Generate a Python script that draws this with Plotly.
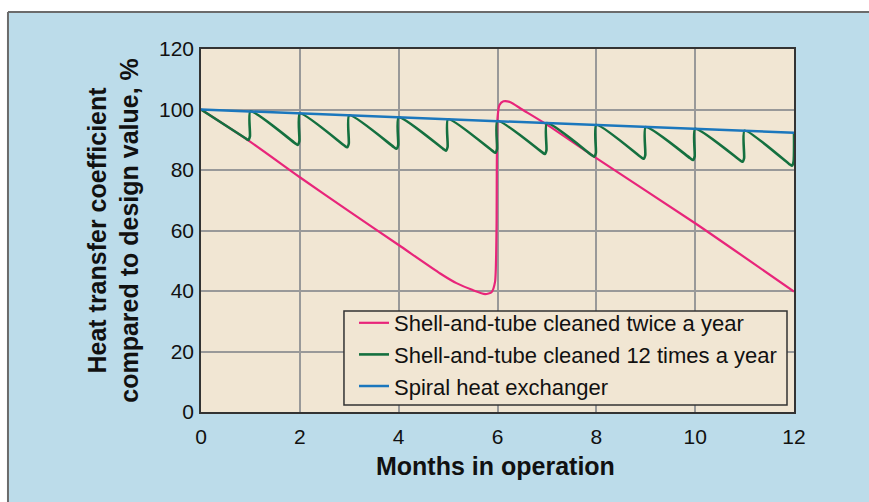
import plotly.graph_objects as go

# ---- data ----
months_ticks = [0, 2, 4, 6, 8, 10, 12]
y_ticks = [0, 20, 40, 60, 80, 100, 120]

# Spiral heat exchanger
spiral_x = [0, 2, 4, 6, 8, 10, 12]
spiral_y = [100, 98.7, 97.4, 96.1, 94.9, 93.6, 92.3]

# Shell-and-tube cleaned twice a year
twice_x = [0, 1, 2, 3, 4, 4.84, 5.17, 5.5, 5.75, 5.88, 5.95, 5.98, 6.0, 6.04, 6.12, 6.25, 6.5, 7, 8, 10, 12]
twice_y = [100, 89.3, 77.6, 66.3, 55.2, 45.8, 42.6, 40.3, 39.0, 39.6, 43, 60, 97, 101.5, 102.7, 102.5, 100, 95, 83.9, 62.4, 39.8]

# Shell-and-tube cleaned 12 times a year: value right after each cleaning (months 0..12)
monthly_peaks = [100, 99.4, 98.7, 98.1, 97.4, 96.8, 96.2, 95.5, 94.9, 94.2, 93.6, 93.0, 92.3]
# lowest value just before each cleaning (months 1..12)
monthly_troughs = [89.9, 88.3, 87.5, 87.0, 86.4, 85.7, 85.3, 84.4, 83.7, 83.3, 82.7, 81.4]

labels = ["Shell-and-tube cleaned twice a year",
          "Shell-and-tube cleaned 12 times a year",
          "Spiral heat exchanger"]

# ---- build the sawtooth path from peaks/troughs ----
gx, gy = [], []
for k in range(12):
    p = monthly_peaks[k]
    t = monthly_troughs[k]
    gx += [k, k + 0.9, k + 0.955, k + 0.99]
    gy += [p, t + 0.6, t, t + 1.2]
gx.append(12)
gy.append(monthly_peaks[12])

PINK = "#e8257a"
GREEN = "#14703f"
BLUE = "#1b77bd"
FONT = "Liberation Sans, Arial, Helvetica, sans-serif"
PLOTBG = "#f1e6d3"
BG = "#bcdcea"

fig = go.Figure()
fig.add_trace(go.Scatter(x=twice_x, y=twice_y, mode="lines", name=labels[0],
                         line=dict(color=PINK, width=2.2, shape="spline", smoothing=0.6)))
fig.add_trace(go.Scatter(x=gx, y=gy, mode="lines", name=labels[1],
                         line=dict(color=GREEN, width=2.6, shape="spline", smoothing=0.6)))
fig.add_trace(go.Scatter(x=spiral_x, y=spiral_y, mode="lines", name=labels[2],
                         line=dict(color=BLUE, width=2.5)))

fig.update_layout(
    width=869, height=502,
    margin=dict(l=201, r=75, t=49, b=90),
    paper_bgcolor=BG,
    plot_bgcolor=PLOTBG,
    font=dict(family=FONT, color="#111111", size=20),
    showlegend=True,
    legend=dict(x=0.258, y=0.303, xanchor="left", yanchor="top",
                bgcolor="rgba(0,0,0,0)", borderwidth=0,
                font=dict(size=22, family=FONT, color="#111111"),
                tracegroupgap=0),
    xaxis=dict(range=[0, 12], tickvals=months_ticks, ticktext=[str(v) for v in months_ticks],
               showgrid=True, gridcolor="#999999", gridwidth=1.5,
               showline=True, linecolor="#333333", linewidth=1.5, mirror=True,
               zeroline=False, ticks="", ticklabelstandoff=5, tickfont=dict(size=21)),
    yaxis=dict(range=[0, 120], tickvals=y_ticks, ticktext=[str(v) for v in y_ticks],
               showgrid=True, gridcolor="#999999", gridwidth=1.5,
               showline=True, linecolor="#333333", linewidth=1.5, mirror=True,
               zeroline=False, ticks="", ticklabelstandoff=1, tickfont=dict(size=21)),
    annotations=[
        dict(text="<b>Months in operation</b>", xref="paper", yref="paper",
             x=0.497, y=-0.149, xanchor="center", yanchor="middle", showarrow=False,
             font=dict(size=25, family=FONT, color="#111111")),
        dict(text="<b>Heat transfer coefficient<br>compared to design value, %</b>",
             xref="paper", yref="paper", x=-0.148, y=0.5, xanchor="center", yanchor="middle",
             textangle=-90, showarrow=False,
             font=dict(size=25, family=FONT, color="#111111")),
    ],
    shapes=[
        # opaque legend panel (legend text/lines are drawn on top of it)
        dict(type="rect", xref="paper", yref="paper", x0=0.2411, x1=0.9882, y0=0.0193, y1=0.2782,
             fillcolor=PLOTBG, line=dict(color="#333333", width=1.5), layer="above"),
        # white page margin on top and left, with the gray frame line
        dict(type="rect", xref="paper", yref="paper", x0=-0.4, x1=1.2, y0=1.1019, y1=1.3,
             fillcolor="white", line=dict(width=0), layer="above"),
        dict(type="rect", xref="paper", yref="paper", x0=-0.4, x1=-0.3255, y0=-0.4, y1=1.3,
             fillcolor="white", line=dict(width=0), layer="above"),
        dict(type="line", xref="paper", yref="paper", x0=-0.3255, x1=1.2, y0=1.1019, y1=1.1019,
             line=dict(color="#6b6b6b", width=2), layer="above"),
        dict(type="line", xref="paper", yref="paper", x0=-0.3255, x1=-0.3255, y0=-0.4, y1=1.1019,
             line=dict(color="#6b6b6b", width=2), layer="above"),
    ],
)

fig.write_html("out.html",
               config={"displayModeBar": False},
               post_script=("document.documentElement.style.overflow='hidden';"
                            "document.body.style.overflow='hidden';"
                            "document.body.style.margin='0';"
                            "document.documentElement.style.background='" + BG + "';"
                            "document.body.style.background='" + BG + "';"))
